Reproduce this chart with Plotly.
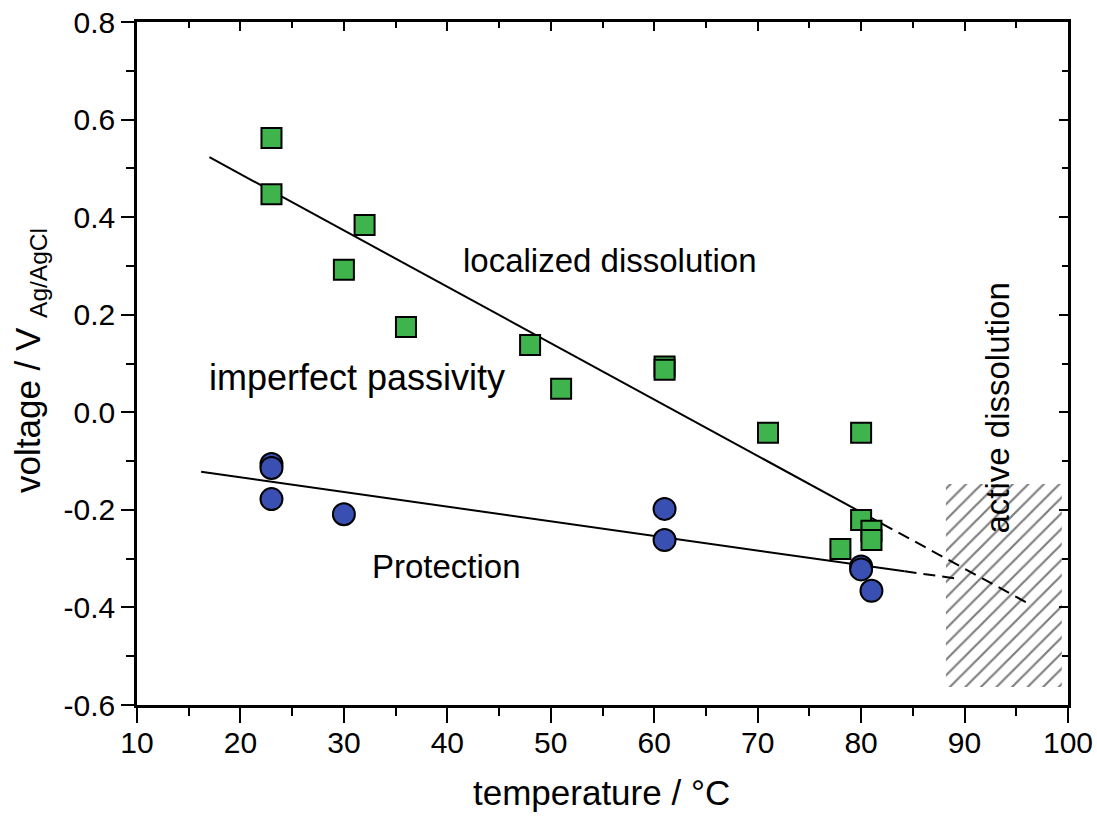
import plotly.graph_objects as go

# ---- data ----
sq_temp = [23, 23, 32, 30, 36, 48, 51, 61, 61, 71, 80, 80, 81, 81, 78]
sq_volt = [0.562, 0.447, 0.384, 0.292, 0.175, 0.138, 0.048, 0.094, 0.087,
           -0.042, -0.042, -0.221, -0.243, -0.262, -0.280]

ci_temp = [23, 23, 23, 30, 61, 61, 80, 80, 81]
ci_volt = [-0.106, -0.114, -0.178, -0.209, -0.198, -0.262, -0.316, -0.322, -0.366]

upper_solid_x = [17, 82]
upper_solid_y = [0.523, -0.228]
upper_dash_x = [82, 96]
upper_dash_y = [-0.228, -0.390]

lower_solid_x = [16.2, 84.2]
lower_solid_y = [-0.122, -0.326]
lower_dash_x = [84.2, 89]
lower_dash_y = [-0.326, -0.340]

hatch_x = [88.2, 99.4, 99.4, 88.2, 88.2]
hatch_y = [-0.147, -0.147, -0.563, -0.563, -0.147]

x_ticks = [10, 20, 30, 40, 50, 60, 70, 80, 90, 100]
y_ticks = [-0.6, -0.4, -0.2, 0.0, 0.2, 0.4, 0.6, 0.8]
y_tick_text = ["-0.6", "-0.4", "-0.2", "0.0", "0.2", "0.4", "0.6", "0.8"]

FONT = "Liberation Sans, Arial, sans-serif"

fig = go.Figure()

fig.add_trace(go.Scatter(
    x=hatch_x, y=hatch_y, mode="lines", fill="toself",
    line=dict(width=0, color="rgba(0,0,0,0)"),
    fillcolor="rgba(0,0,0,0)",
    fillpattern=dict(shape="/", fgcolor="#000000", bgcolor="rgba(0,0,0,0)",
                     size=11, solidity=0.2),
    hoverinfo="skip", showlegend=False))

for xs, ys, dash in [(upper_solid_x, upper_solid_y, "solid"),
                     (upper_dash_x, upper_dash_y, "12px,7px"),
                     (lower_solid_x, lower_solid_y, "solid"),
                     (lower_dash_x, lower_dash_y, "12px,7px")]:
    fig.add_trace(go.Scatter(x=xs, y=ys, mode="lines",
                             line=dict(color="black", width=2, dash=dash),
                             showlegend=False))

fig.add_trace(go.Scatter(
    x=sq_temp, y=sq_volt, mode="markers",
    marker=dict(symbol="square", size=20, color="#3fb44d",
                line=dict(color="black", width=2)),
    showlegend=False))

fig.add_trace(go.Scatter(
    x=ci_temp, y=ci_volt, mode="markers",
    marker=dict(symbol="circle", size=22, color="#3a4fb2",
                line=dict(color="black", width=2)),
    showlegend=False))

# invisible trace for mirrored axes with inward ticks
fig.add_trace(go.Scatter(x=[10], y=[0], xaxis="x2", yaxis="y2", mode="markers",
                         marker=dict(opacity=0), hoverinfo="skip", showlegend=False))

fig.update_layout(
    width=1097, height=817, autosize=False,
    margin=dict(l=137, r=29, t=22, b=112, autoexpand=False),
    paper_bgcolor="white", plot_bgcolor="white",
    font=dict(family=FONT, color="black", size=24),
    xaxis=dict(range=[10, 100], tickvals=x_ticks, ticks="outside", ticklen=15,
               tickwidth=2, tickcolor="black", showline=True, linewidth=2.5,
               linecolor="black", showgrid=False, zeroline=False,
               ticklabeloverflow="allow", ticklabelstandoff=-6,
               tickfont=dict(size=30, family=FONT),
               minor=dict(dtick=5, ticks="outside", ticklen=8, tickwidth=2,
                          tickcolor="black", showgrid=False)),
    yaxis=dict(range=[-0.6, 0.8], tickvals=y_ticks, ticktext=y_tick_text,
               ticks="outside", ticklen=13, tickwidth=2, tickcolor="black",
               showline=True, linewidth=2.5, linecolor="black", showgrid=False,
               zeroline=False, ticklabeloverflow="allow",
               tickfont=dict(size=30, family=FONT),
               minor=dict(dtick=0.1, ticks="outside", ticklen=8, tickwidth=2,
                          tickcolor="black", showgrid=False)),
    xaxis2=dict(overlaying="x", side="top", range=[10, 100], tickvals=x_ticks,
                ticks="inside", ticklen=9, tickwidth=2, tickcolor="black",
                showticklabels=False, showline=True, linewidth=2.5,
                linecolor="black", showgrid=False, zeroline=False,
                minor=dict(dtick=5, ticks="inside", ticklen=6, tickwidth=2,
                           tickcolor="black", showgrid=False)),
    yaxis2=dict(overlaying="y", side="right", range=[-0.6, 0.8], tickvals=y_ticks,
                ticks="inside", ticklen=9, tickwidth=2, tickcolor="black",
                showticklabels=False, showline=True, linewidth=2.5,
                linecolor="black", showgrid=False, zeroline=False,
                minor=dict(dtick=0.1, ticks="inside", ticklen=6, tickwidth=2,
                           tickcolor="black", showgrid=False)),
)

ann_font = dict(family=FONT, size=33, color="black")
fig.add_annotation(x=55.7, y=0.312, text="localized dissolution", showarrow=False,
                   font=ann_font)
fig.add_annotation(x=31.3, y=0.072, text="imperfect passivity", showarrow=False,
                   font=dict(family=FONT, size=36, color="black"))
fig.add_annotation(x=39.9, y=-0.317, text="Protection", showarrow=False,
                   font=ann_font)
fig.add_annotation(x=93.2, y=0.009, text="active dissolution", showarrow=False,
                   textangle=-90, font=ann_font)

fig.add_annotation(xref="paper", yref="paper", x=0.499, y=-0.1274,
                   text="temperature / °C", showarrow=False,
                   xanchor="center", yanchor="middle",
                   font=dict(family=FONT, size=35, color="black"))
fig.add_annotation(xref="paper", yref="paper", x=-0.115, y=0.505,
                   text="voltage / V <sub>Ag/AgCl</sub>", showarrow=False,
                   textangle=-90, xanchor="center", yanchor="middle",
                   font=dict(family=FONT, size=35, color="black"))

fig.write_html("out.html", config={"displayModeBar": False},
               post_script="document.body.style.margin='0px';")
